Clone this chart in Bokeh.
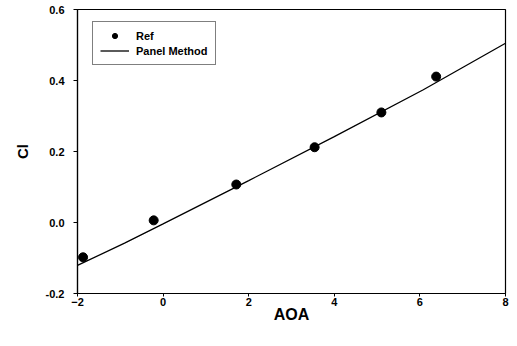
from bokeh.plotting import figure
from bokeh.models import ColumnDataSource, Legend, LegendItem, FixedTicker, NumeralTickFormatter, Range1d
from bokeh.embed import file_html
from bokeh.resources import INLINE

# Reference data (dots)
ref_aoa = [-1.87, -0.22, 1.71, 3.54, 5.10, 6.38]
ref_cl = [-0.098, 0.006, 0.107, 0.212, 0.310, 0.411]

# Panel method (line)
pm_aoa = [-2.0, -0.9, 0.0, 2.0, 4.0, 6.08, 8.0]
pm_cl = [-0.121, -0.058, -0.004, 0.118, 0.242, 0.374, 0.505]

x_ticks = [-2, 0, 2, 4, 6, 8]
y_ticks = [-0.2, 0.0, 0.2, 0.4, 0.6]

FONT = "Liberation Sans"

p = figure(width=510, height=340, output_backend="svg", toolbar_location=None,
           x_range=Range1d(-2, 8), y_range=Range1d(-0.2, 0.6),
           min_border_left=77, min_border_right=5, min_border_top=9, min_border_bottom=47)

p.xgrid.visible = False
p.ygrid.visible = False
p.outline_line_color = "black"
p.outline_line_width = 1.2
p.background_fill_color = "white"
p.border_fill_color = "white"

line_r = p.line(pm_aoa, pm_cl, line_color="black", line_width=1.3)
dot_r = p.scatter(ref_aoa, ref_cl, size=9, fill_color="black", line_color="black")

for ax in (p.xaxis[0], p.yaxis[0]):
    ax.axis_line_color = "black"
    ax.axis_line_width = 1.2
    ax.major_tick_line_color = "black"
    ax.major_tick_out = 4
    ax.major_tick_in = 0
    ax.minor_tick_line_color = None
    ax.major_label_text_font = FONT
    ax.major_label_text_font_style = "bold"
    ax.major_label_text_font_size = "11px"
    ax.major_label_text_color = "black"
    ax.axis_label_text_font = FONT
    ax.axis_label_text_font_style = "bold"
    ax.axis_label_text_color = "black"

p.xaxis[0].ticker = FixedTicker(ticks=x_ticks)
p.yaxis[0].ticker = FixedTicker(ticks=y_ticks)
p.yaxis[0].formatter = NumeralTickFormatter(format="0.0")
p.xaxis[0].axis_label = "AOA"
p.xaxis[0].axis_label_text_font_size = "16px"
p.xaxis[0].axis_label_standoff = -3
p.xaxis[0].major_tick_out = 3
p.xaxis[0].major_label_standoff = 1
p.yaxis[0].axis_label = "Cl"
p.yaxis[0].axis_label_text_font_size = "15px"
p.yaxis[0].axis_label_standoff = 12
p.yaxis[0].major_label_standoff = 9

legend = Legend(items=[LegendItem(label="Ref", renderers=[dot_r]),
                       LegendItem(label="Panel Method", renderers=[line_r])],
                location=(15, 228), orientation="vertical",
                label_text_font=FONT, label_text_font_style="bold",
                label_text_font_size="11px", label_text_color="black",
                glyph_width=29, glyph_height=13, label_height=13,
                label_standoff=7, spacing=2, padding=7, margin=0,
                border_line_color="black", border_line_width=1,
                background_fill_color="white", background_fill_alpha=1.0)
p.add_layout(legend, "center")

open("out.html", "w").write(file_html(p, INLINE))
